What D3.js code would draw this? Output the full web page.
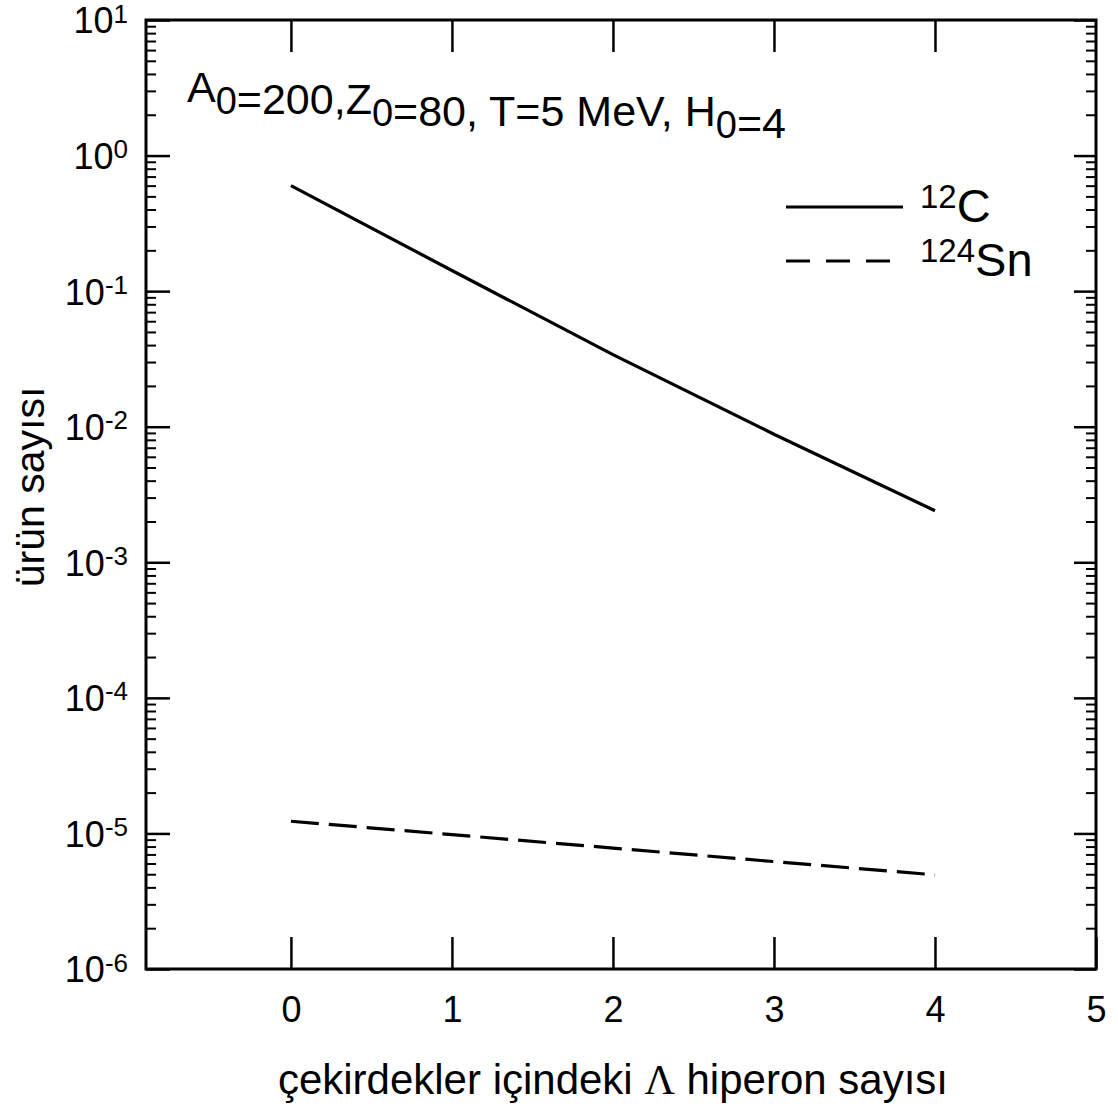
<!DOCTYPE html>
<html>
<head>
<meta charset="utf-8">
<script src="https://cdn.jsdelivr.net/npm/d3@7"></script>
<style>
  body { margin: 0; background: #fff; }
  svg { font-family: "Liberation Sans", Arial, sans-serif; }
</style>
</head>
<body>
<div class="chart"></div>
<script>
// lambda hyperon counts
const hyperons = [0, 1, 2, 3, 4]
// product yields
const carbon12 = [0.60, 0.142, 0.034, 0.0088, 0.0024]
const tin124 = [1.23e-5, 9.8e-6, 7.8e-6, 6.2e-6, 4.95e-6]

const xTicks = [0, 1, 2, 3, 4, 5]
const yExponents = [1, 0, -1, -2, -3, -4, -5, -6]

const seriesNames = ["12C", "124Sn"]

function drawChart () {
  const width = 1118
  const height = 1106
  const margin = { top: 20, right: 22, bottom: 137, left: 146 }
  const plotW = width - margin.left - margin.right
  const plotH = height - margin.top - margin.bottom

  const svg = d3.select(".chart").append("svg")
    .attr("width", width)
    .attr("height", height)

  const g = svg.append("g")
    .attr("transform", "translate(" + margin.left + "," + margin.top + ")")

  const x = d3.scaleLinear().domain([-0.9, 5]).range([0, plotW])
  const y = d3.scaleLog().domain([1e-6, 1e1]).range([plotH, 0])

  const majors = yExponents.map(e => Math.pow(10, e))
  const minors = []
  yExponents.slice(1).forEach(e => {
    for (let m = 2; m <= 9; m++) minors.push(m * Math.pow(10, e))
  })

  const clean = sel => sel.select(".domain").remove()

  // bottom axis with labels
  g.append("g")
    .attr("transform", "translate(0," + plotH + ")")
    .call(d3.axisBottom(x).tickValues(xTicks).tickSize(-32).tickSizeOuter(0).tickPadding(27).tickFormat(d3.format("d")))
    .call(clean)
    .call(s => s.selectAll("line").attr("stroke", "#000").attr("stroke-width", 2.5))
    .call(s => s.selectAll("text").attr("font-size", 36).attr("fill", "#000").attr("font-family", null))

  // top axis, ticks only
  g.append("g")
    .call(d3.axisTop(x).tickValues(xTicks.slice(0, 5)).tickSize(-32).tickSizeOuter(0).tickFormat(() => ""))
    .call(clean)
    .call(s => s.selectAll("line").attr("stroke", "#000").attr("stroke-width", 2.5))

  // left axis
  const left = g.append("g")
    .call(d3.axisLeft(y).tickValues(majors).tickSize(-24).tickSizeOuter(0).tickPadding(18).tickFormat(() => ""))
    .call(clean)
  left.selectAll("line").attr("stroke", "#000").attr("stroke-width", 2.5)
  left.selectAll(".tick text")
    .attr("font-size", 36)
    .attr("fill", "#000")
    .attr("font-family", null)
    .attr("dy", "0.36em")
    .each(function (d) {
      const t = d3.select(this)
      t.append("tspan").text("10")
      t.append("tspan").attr("dy", "-0.42em").attr("font-size", 26).text(Math.round(Math.log10(d)))
    })

  g.append("g")
    .call(d3.axisLeft(y).tickValues(minors).tickSize(-10).tickSizeOuter(0).tickFormat(() => ""))
    .call(clean)
    .call(s => s.selectAll("line").attr("stroke", "#000").attr("stroke-width", 2))

  // right axis, ticks only
  g.append("g")
    .attr("transform", "translate(" + plotW + ",0)")
    .call(d3.axisRight(y).tickValues(majors).tickSize(-22).tickSizeOuter(0).tickFormat(() => ""))
    .call(clean)
    .call(s => s.selectAll("line").attr("stroke", "#000").attr("stroke-width", 2.5))

  g.append("g")
    .attr("transform", "translate(" + plotW + ",0)")
    .call(d3.axisRight(y).tickValues(minors).tickSize(-10).tickSizeOuter(0).tickFormat(() => ""))
    .call(clean)
    .call(s => s.selectAll("line").attr("stroke", "#000").attr("stroke-width", 2))

  // frame
  g.append("rect")
    .attr("width", plotW)
    .attr("height", plotH)
    .attr("fill", "none")
    .attr("stroke", "#000")
    .attr("stroke-width", 3)

  const line = d3.line()
    .x((d, i) => x(hyperons[i]))
    .y(d => y(d))

  const dashes = [null, "28,10"]

  ;[carbon12, tin124].forEach((vals, i) => {
    g.append("path")
      .datum(vals)
      .attr("fill", "none")
      .attr("stroke", "#000")
      .attr("stroke-width", 3.2)
      .attr("stroke-dasharray", dashes[i])
      .attr("d", line)
  })

  // legend
  const legend = g.append("g").attr("transform", "translate(640,187)")
  seriesNames.forEach((name, i) => {
    const row = legend.append("g").attr("transform", "translate(0," + i * 54 + ")")
    row.append("line")
      .attr("x1", 0).attr("x2", i === 0 ? 117 : 104)
      .attr("stroke", "#000")
      .attr("stroke-width", 3.2)
      .attr("stroke-dasharray", i === 0 ? null : "24,16")
    const t = row.append("text").attr("x", 134).attr("y", 15)
    const m = name.match(/^(\d+)(.*)$/)
    t.append("tspan").attr("font-size", 33).attr("dy", -14).text(m[1])
    t.append("tspan").attr("font-size", 47).attr("dy", 14).text(m[2])
  })

  // annotation
  const note = g.append("text").attr("x", 41).attr("y", 82)
  const parts = [["A", "0"], ["=200,Z", "0"], ["=80, T=5 MeV, H", "0"], ["=4", null]]
  parts.forEach(([main, sub]) => {
    note.append("tspan").attr("font-size", 43).text(main)
    if (sub) {
      note.append("tspan").attr("dy", 12).attr("font-size", 38).text(sub)
      note.append("tspan").attr("dy", -12).text("")
    }
  })

  // axis titles
  const xt = svg.append("text")
    .attr("x", margin.left + x(2))
    .attr("y", 1094)
    .attr("text-anchor", "middle")
    .attr("font-size", 42)
  xt.append("tspan").text("çekirdekler içindeki ")
  xt.append("tspan").attr("font-family", "'Liberation Serif', 'DejaVu Serif', serif").text("Λ")
  xt.append("tspan").text(" hiperon sayısı")

  svg.append("text")
    .attr("transform", "translate(44,487) rotate(-90)")
    .attr("text-anchor", "middle")
    .attr("font-size", 41)
    .text("ürün sayısı")
}

drawChart()
</script>
</body>
</html>
